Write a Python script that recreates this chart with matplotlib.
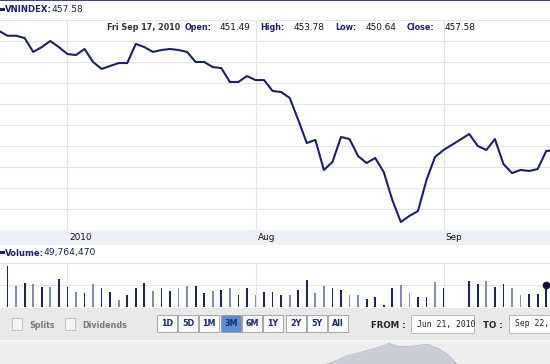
import matplotlib
matplotlib.use('Agg')
import matplotlib.pyplot as plt
from matplotlib.patches import Rectangle
import pandas as pd

W, H = 550, 364

# ordinal business-day axis, market closed Sep 2-3
days = pd.bdate_range('2010-06-21', '2010-09-20')
closed = pd.to_datetime(['2010-09-02', '2010-09-03'])
trade_days = [d for d in days if d not in closed]

close = [514.8, 512.5, 512.5, 511.4, 504.8, 507.1, 510.0, 507.1, 503.8, 503.3,
         506.2, 500.0, 496.7, 498.1, 499.5, 499.5, 508.6, 507.1, 504.8, 505.7,
         506.2, 505.7, 504.8, 500.0, 500.0, 497.6, 497.1, 490.5, 490.5, 493.3,
         491.4, 491.4, 486.2, 485.7, 482.9, 472.4, 461.4, 462.9, 448.6, 452.4,
         464.3, 463.3, 455.2, 451.9, 454.3, 447.6, 434.3, 423.8, 426.7, 429.0,
         443.8, 454.8, 458.1, 465.7, 460.0, 458.1, 463.3, 451.4, 447.1, 448.6,
         448.1, 449.0, 457.58, 458.1]

# volume in millions of shares
volume = [40.0, 94.3, 48.3, 53.8, 51.5, 46.0, 44.6, 63.0, 44.6, 34.5,
          30.8, 51.5, 42.3, 34.5, 17.0, 26.9, 43.7, 53.8, 36.1, 42.3,
          36.8, 43.7, 48.3, 48.3, 30.8, 36.1, 38.4, 43.7, 26.9, 42.3,
          26.9, 34.5, 34.5, 26.9, 26.9, 38.4, 61.4, 30.8, 48.3, 42.3,
          38.4, 26.9, 26.9, 19.3, 23.0, 5.5, 43.7, 49.9, 30.8, 23.0,
          23.0, 57.5, 43.7, 59.1, 51.5, 59.1, 46.0, 51.5, 42.3, 26.9,
          28.5, 28.5, 49.76, 45.0]
# 'd' dark / 'l' light bar
vol_tone = list('ddldldldd' 'ldldd' 'ldddl' 'ddlld' 'dldld' 'dl'
                'dddldd' 'llddl' 'ldddd' 'lldd' 'l' 'dddlddlldd' 'd')

# navigator silhouette (long-range history, relative level 0-1)
nav_x = [326, 334, 340, 346, 352, 358, 364, 370, 376, 381, 385, 389, 393,
         398, 404, 410, 416, 421, 425, 429, 434, 439, 444, 449, 453, 457]
nav_level = [0.0, 0.10, 0.22, 0.34, 0.42, 0.48, 0.55, 0.62, 0.70, 0.78, 0.82,
             0.90, 0.84, 0.78, 0.76, 0.78, 0.80, 0.82, 0.86, 0.84, 0.74,
             0.66, 0.52, 0.36, 0.18, 0.0]

header = dict(date='Fri Sep 17, 2010', open='451.49', high='453.78',
              low='450.64', close='457.58', volume='49,764,470')
month_labels = ['2010', 'Aug', 'Sep']

NAVY = '#1b2168'
GRID = '#e4e4e4'
pos = {d: i for i, d in enumerate(days)}
x = [pos[d] for d in trade_days]
tone = (vol_tone + ['d'] * len(x))[:len(x)]
bar_col = ['#1e2558' if t == 'd' else '#7f8cba' for t in tone]
month_pos = [pos[d] for d in [pd.Timestamp('2010-07-01'), pd.Timestamp('2010-08-02'),
                              pd.Timestamp('2010-09-01')]]

fig = plt.figure(figsize=(W / 100, H / 100), dpi=100)
fig.patch.set_facecolor('white')


def frect(x0, y0, x1, y1):
    # pixel box -> figure fraction rect
    return [x0 / W, 1 - y1 / H, (x1 - x0) / W, (y1 - y0) / H]


def ftext(px, py, s, **kw):
    kw.setdefault('va', 'center')
    kw.setdefault('fontsize', 5.8)
    fig.text(px / W, 1 - py / H, s, **kw)


def fbox(x0, y0, x1, y1, **kw):
    fig.add_artist(Rectangle((x0 / W, 1 - y1 / H), (x1 - x0) / W, (y1 - y0) / H,
                             transform=fig.transFigure, **kw))


step = 8.55
xlo = 1 / step
xhi = 551 / step

# price panel
ax = fig.add_axes(frect(0, 20, 550, 230))
ax.plot(x, close, color=NAVY, lw=1.5, solid_joinstyle='round')
ax.set_xlim(xlo, xhi)
ax.set_ylim(420, 520)
ax.set_yticks(range(420, 521, 10))
ax.set_xticks(month_pos)
ax.grid(True, color=GRID, lw=0.8)
ax.set_axisbelow(True)
ax.tick_params(length=0, labelleft=False, labelbottom=False)
for s in ax.spines.values():
    s.set_visible(False)

# x-axis band
fbox(0, 230, 550, 245, facecolor='#eef0f8', edgecolor='none')
for mp, lab in zip(month_pos, month_labels):
    px = (mp - xlo) * step
    ftext(px + 2, 238, lab, color='#111111', fontsize=6.4)

# volume panel
vax = fig.add_axes(frect(0, 263, 550, 307))
vax.bar(x, volume, width=0.2, color=bar_col)
vax.plot(x[-2], volume[-2], 'o', color='#111133', ms=4.5)
vax.set_xlim(xlo, xhi)
vax.set_ylim(0, 100)
vax.set_yticks([50, 100])
vax.set_xticks(month_pos)
vax.grid(True, color=GRID, lw=0.8)
vax.set_axisbelow(True)
vax.tick_params(length=0, labelleft=False, labelbottom=False)
for s in vax.spines.values():
    s.set_visible(False)

# headers
fbox(0, 0, 550, 1.2, facecolor='#3a4a80', edgecolor='none')
fbox(0, 8, 5, 11, facecolor=NAVY, edgecolor='none')
ftext(5, 10, 'VNINDEX:', color=NAVY, fontweight='bold', fontsize=6.1)
ftext(51, 10, header['close'], color=NAVY, fontsize=6.6)
ftext(107, 28, header['date'], color='#333333', fontweight='bold')
ftext(185, 28, 'Open:', color=NAVY, fontweight='bold')
ftext(220, 28, header['open'], color='#111111', fontsize=6.4)
ftext(260, 28, 'High:', color=NAVY, fontweight='bold')
ftext(294, 28, header['high'], color='#111111', fontsize=6.4)
ftext(335, 28, 'Low:', color=NAVY, fontweight='bold')
ftext(366, 28, header['low'], color='#111111', fontsize=6.4)
ftext(407, 28, 'Close:', color=NAVY, fontweight='bold')
ftext(445, 28, header['close'], color='#111111', fontsize=6.4)

fbox(0, 251, 5, 254, facecolor=NAVY, edgecolor='none')
ftext(5, 253, 'Volume:', color=NAVY, fontweight='bold', fontsize=6.1)
ftext(43, 253, header['volume'], color=NAVY, fontsize=6.6)

# control strip
fbox(0, 308, 550, 340, facecolor='#e9e9e9', edgecolor='none')
fbox(0, 340, 550, 364, facecolor='#eeeeee', edgecolor='none')
fbox(0, 339.5, 550, 340.5, facecolor='#f6f6f6', edgecolor='none')

nax = fig.add_axes(frect(0, 340, 550, 364))
nax.set_zorder(3)
nax.patch.set_visible(False)
nax.fill_between(nav_x, nav_level, 0, color='#c9cdd8', lw=0)
nax.plot(nav_x, nav_level, color='#b4bac8', lw=0.6)
nax.set_xlim(0, 550)
nax.set_ylim(0, 1.05)
nax.axis('off')

for cx, lab in [(12, 'Splits'), (65, 'Dividends')]:
    fbox(cx, 318, cx + 10, 330, facecolor='#f4f4f4', edgecolor='#b8b8b8', lw=0.6)
    ftext(cx + 17, 325, lab, color='#707a80', fontweight='bold')

buttons = ['1D', '5D', '1M', '3M', '6M', '1Y', '2Y', '5Y', 'All']
bx = [157, 178, 199, 221, 242, 263, 286, 307, 328]
for b, x0 in zip(buttons, bx):
    sel = b == '3M'
    fbox(x0, 315, x0 + 20, 332, facecolor='#5b8fd0' if sel else '#fafafa',
         edgecolor='#9a9a9a', lw=0.6)
    ftext(x0 + 10, 324, b, color='#1a2a6a', fontweight='bold', ha='center')

ftext(371, 325, 'FROM :', color='#222222', fontweight='bold', fontsize=6.2)
fbox(411, 315, 474, 333, facecolor='white', edgecolor='#b0b0b0', lw=0.6)
ftext(417, 324, 'Jun 21, 2010', color='#222222', family='DejaVu Sans Mono', fontsize=5.9)
ftext(483, 325, 'TO :', color='#222222', fontweight='bold', fontsize=6.2)
fbox(509, 315, 560, 333, facecolor='white', edgecolor='#b0b0b0', lw=0.6)
ftext(515, 324, 'Sep 22, 2010', color='#222222', family='DejaVu Sans Mono', fontsize=5.9)

fig.savefig('out.png', dpi=100)
